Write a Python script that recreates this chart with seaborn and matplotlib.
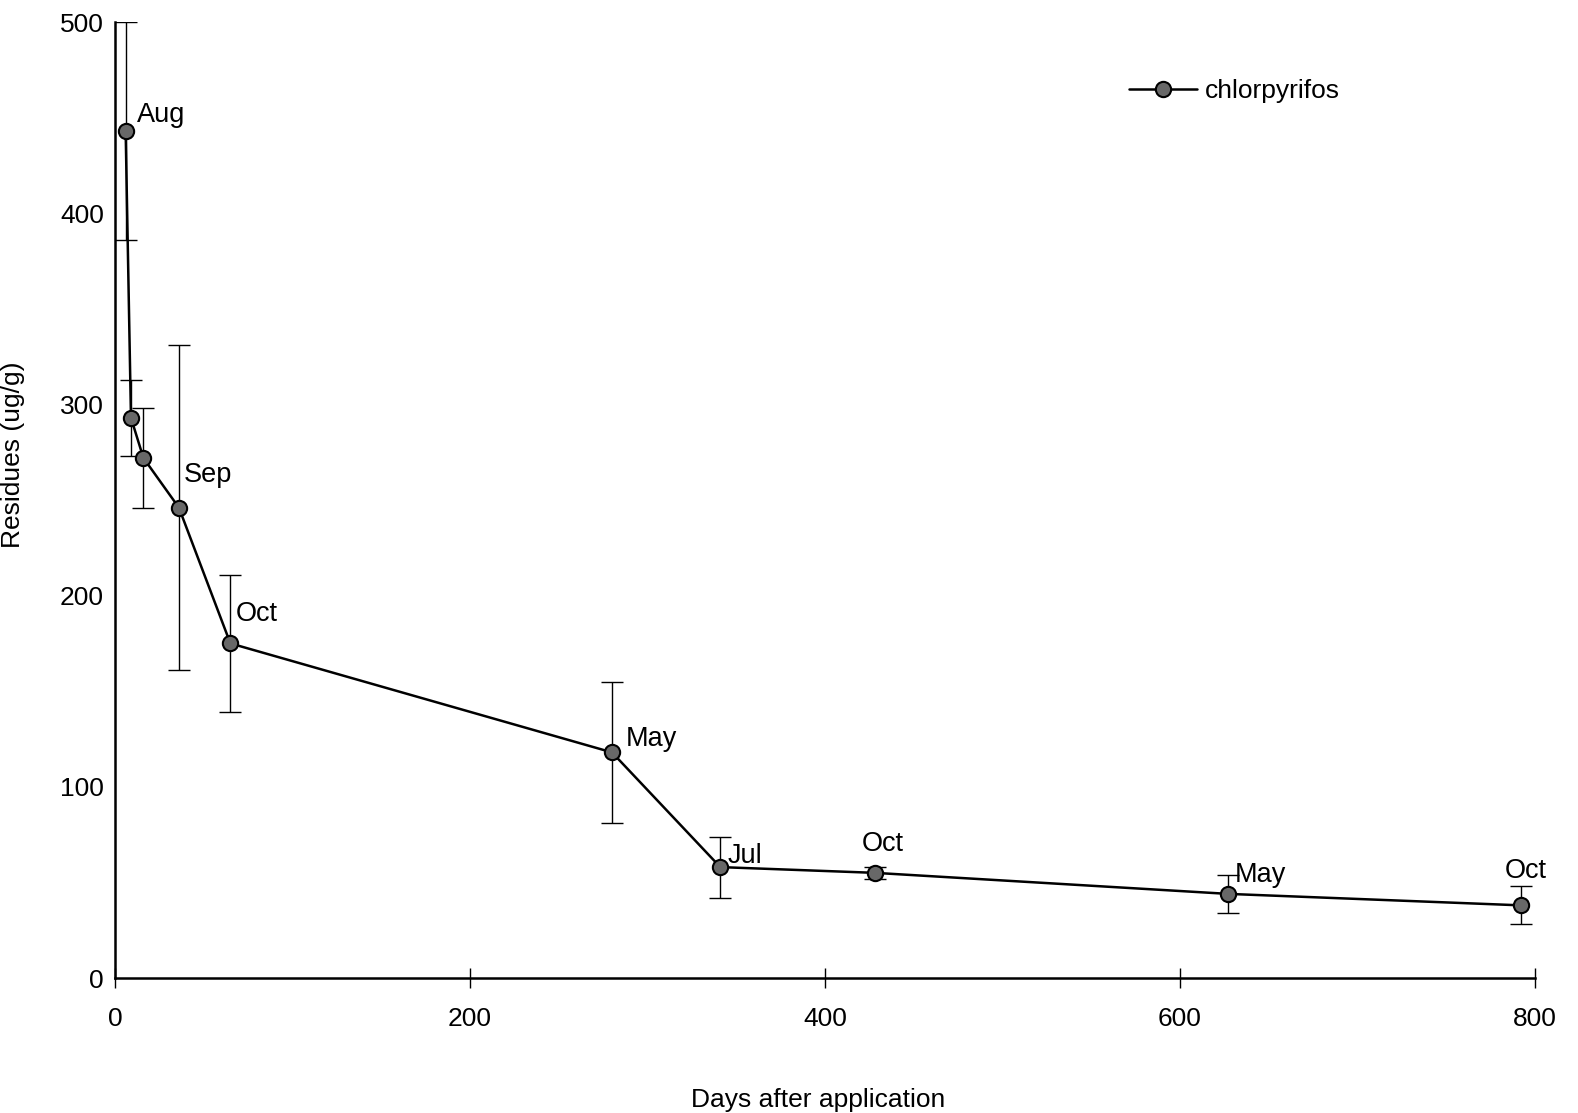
import matplotlib
matplotlib.use("Agg")
import matplotlib.pyplot as plt
import seaborn as sns
import pandas as pd

# Chlorpyrifos residues over time after application
days = [6, 9, 16, 36, 65, 280, 341, 428, 627, 792]
residues = [443, 293, 272, 246, 175, 118, 58, 55, 44, 38]
errors = [57, 20, 26, 85, 36, 37, 16, 3, 10, 10]
month_labels = ["Aug", "", "", "Sep", "Oct", "May", "Jul", "Oct", "May", "Oct"]

x_ticks = [0, 200, 400, 600, 800]
y_ticks = [0, 100, 200, 300, 400, 500]

sns.set_style("ticks")
plt.rcParams["font.family"] = ["Liberation Sans", "DejaVu Sans"]
plt.rcParams["text.color"] = "black"
plt.rcParams["axes.labelcolor"] = "black"
plt.rcParams["xtick.color"] = "black"
plt.rcParams["ytick.color"] = "black"
plt.rcParams["axes.edgecolor"] = "black"

df = pd.DataFrame({"days": days, "residues": residues, "err": errors})

fig = plt.figure(figsize=(15.78, 11.13), dpi=100)
ax = fig.add_axes([115 / 1578, 1 - 978 / 1113, (1535 - 115) / 1578, (978 - 22) / 1113])

ax.errorbar(df["days"], df["residues"], yerr=df["err"], fmt="none",
            ecolor="black", elinewidth=1.0, capsize=8, capthick=1.0, zorder=2)
sns.lineplot(data=df, x="days", y="residues", ax=ax, color="black", linewidth=1.8,
             marker="o", markersize=11, markerfacecolor="#686868",
             markeredgecolor="black", markeredgewidth=1.5, label="chlorpyrifos",
             zorder=3)

# month annotations, offsets in pixels from each point
offsets = [(11, 16), None, None, (5, 33), (5, 29), (14, 13), (7, 11), (-13, 29), (7, 19), (-16, 34)]
for d, r, lab, off in zip(days, residues, month_labels, offsets):
    if lab and off is not None:
        ax.annotate(lab, (d, r), xytext=off, textcoords="offset pixels",
                    ha="left", va="center", fontsize=19.5)

ax.set_xlim(0, 800)
ax.set_ylim(0, 500)
ax.set_xticks(x_ticks)
ax.set_yticks(y_ticks)
ax.tick_params(axis="x", direction="inout", length=14, width=1.0, labelsize=19, pad=14)
ax.tick_params(axis="y", length=0, labelsize=19, pad=8)
for s in ["top", "right"]:
    ax.spines[s].set_visible(False)
for s in ["left", "bottom"]:
    ax.spines[s].set_linewidth(1.8)

ax.set_xlabel("Days after application", fontsize=19)
ax.xaxis.set_label_coords((818 - 115) / (1535 - 115), -(1088 - 978) / (978 - 22))
ax.set_ylabel("Residues (ug/g)", fontsize=19)
ax.yaxis.set_label_coords(-(115 - 25) / (1535 - 115), (978 - 455) / (978 - 22))

leg = ax.legend(loc="upper left", bbox_to_anchor=(1105 / 1578, 1 - 55 / 1113),
                bbox_transform=fig.transFigure, frameon=False, fontsize=19,
                handlelength=2.6, handletextpad=0.3)

fig.savefig("out.png", dpi=100)
